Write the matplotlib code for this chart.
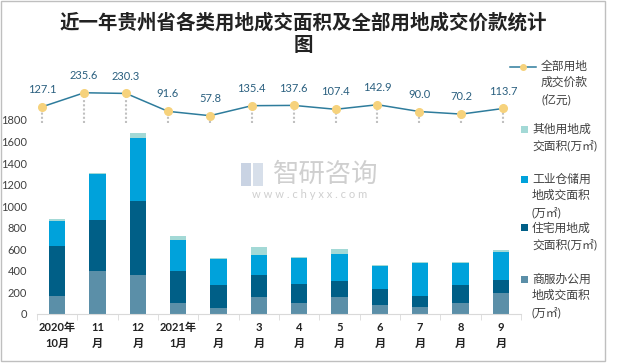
import matplotlib.pyplot as plt
import numpy as np
from matplotlib.patches import Rectangle
from matplotlib.lines import Line2D

plt.rcParams['font.family'] = ['Lato', 'Noto Sans CJK SC', 'DejaVu Sans']

# data
months = ["2020年\n10月", "11\n月", "12\n月", "2021年\n1月", "2\n月", "3\n月",
          "4\n月", "5\n月", "6\n月", "7\n月", "8\n月", "9\n月"]
commercial = [170, 401, 364, 105, 59, 160, 105, 157, 83, 65, 102, 194]
residential = [463, 473, 686, 296, 213, 204, 176, 149, 149, 102, 167, 121]
industrial = [231, 426, 583, 287, 240, 185, 241, 250, 213, 305, 203, 259]
other = [19, 9, 46, 37, 10, 75, 9, 46, 9, 10, 10, 19]
price = [127.1, 235.6, 230.3, 91.6, 57.8, 135.4, 137.6, 107.4, 142.9, 90.0, 70.2, 113.7]

c_com = "#5B8FA8"
c_res = "#005F87"
c_ind = "#00A2DB"
c_oth = "#A3D9D6"
c_line = "#2E7C9C"
c_mark = "#F6D27C"
txt = "#404040"

W, H = 620, 363


def fx(x):
    return x / W


def fy(y):
    return 1 - y / H


fig = plt.figure(figsize=(6.2, 3.63), dpi=100)

# stacked bars
ax = fig.add_axes([fx(37), fy(314), 484 / W, 194 / H])
x = np.arange(len(months))
b = np.zeros(len(months))
for vals, col in [(commercial, c_com), (residential, c_res), (industrial, c_ind), (other, c_oth)]:
    ax.bar(x, vals, 0.4, bottom=b, color=col, zorder=2)
    b = b + np.array(vals)
ax.set_xlim(-0.5, len(months) - 0.5)
ax.set_ylim(0, 1800)
for s in ["top", "right", "left"]:
    ax.spines[s].set_visible(False)
ax.spines["bottom"].set_color("#D9D9D9")
ax.set_yticks(range(0, 1801, 200))
ax.tick_params(axis="y", length=0, pad=7, labelsize=8, labelcolor=txt)
ax.set_xticks(x)
ax.set_xticklabels(months, fontsize=8, fontweight="bold", color="#222222", linespacing=1.5)
ax.tick_params(axis="x", which="major", length=0, pad=6)
ax.set_xticks(np.arange(-0.5, len(months), 1), minor=True)
ax.tick_params(axis="x", which="minor", length=4, color="#D9D9D9")

# price line (separate small chart on top)
ax2 = fig.add_axes([fx(21.35), fy(123.15), 502.8 / W, 38.7 / H])
ax2.set_xlim(-0.5, len(price) - 0.5)
ax2.set_ylim(0, 300)
ax2.axis("off")
xp = np.arange(len(price))
ax2.vlines(xp, 0, price, colors="#C0C0C0", linestyles=(0, (1, 1)), lw=1.5, zorder=1)
ax2.plot(xp, price, color=c_line, lw=1.1, marker="o", ms=5.5, mfc=c_mark, mec=c_mark, zorder=3, clip_on=False)
for xi, v in zip(xp, price):
    ax2.annotate(f"{v:.1f}", (xi, v), xytext=(0, 12.5), textcoords="offset points",
                 ha="center", va="center", fontsize=8, color="#2A5F7F", annotation_clip=False)

# title
fig.text(fx(303), fy(22), "近一年贵州省各类用地成交面积及全部用地成交价款统计", ha="center", va="center",
         fontsize=14, fontweight="bold", color="#222222")
fig.text(fx(303), fy(45), "图", ha="center", va="center", fontsize=14, fontweight="bold", color="#222222")

# watermark
fig.add_artist(Rectangle((fx(241), fy(186)), 10 / W, 23 / H, color="#C9D3E3", transform=fig.transFigure, lw=0))
fig.add_artist(Rectangle((fx(253), fy(186)), 10 / W, 23 / H, color="#D7DFEA", transform=fig.transFigure, lw=0))
fig.text(fx(326), fy(174), "智研咨询", ha="center", va="center", fontsize=19, color="#CFCFCF")
fig.text(fx(310), fy(195), "w w w . c h y x x . c o m", ha="center", va="center", fontsize=8, color="#CFCFCF")

# legend
fig.add_artist(Line2D([fx(510), fx(536)], [fy(67), fy(67)], color=c_line, lw=1.1, transform=fig.transFigure))
fig.add_artist(Line2D([fx(523)], [fy(67)], marker="o", ms=4, mfc=c_mark, mec=c_mark, transform=fig.transFigure))
legend = [
    (None, 541, 66, ["全部用地", "成交价款", "(亿元)"]),
    (c_oth, 532, 129, ["其他用地成", "交面积(万㎡)"]),
    (c_ind, 532, 179, ["工业仓储用", "地成交面积", "(万㎡)"]),
    (c_res, 532, 228, ["住宅用地成", "交面积(万㎡)"]),
    (c_com, 532, 279, ["商服办公用", "地成交面积", "(万㎡)"]),
]
for col, lx, ly, lines in legend:
    if col is not None:
        fig.add_artist(Rectangle((fx(521), fy(ly + 3.5)), 7 / W, 7 / H, color=col,
                                 transform=fig.transFigure, lw=0))
    for i, t in enumerate(lines):
        fig.text(fx(lx), fy(ly + i * 16.5), t, ha="left", va="center", fontsize=8.5, color=txt)

# frame
fig.add_artist(Rectangle((fx(1), fy(361)), 604 / W, 360 / H, fill=False, ec="#BFBFBF", lw=1,
                         transform=fig.transFigure))

fig.savefig("out.png", dpi=100)
